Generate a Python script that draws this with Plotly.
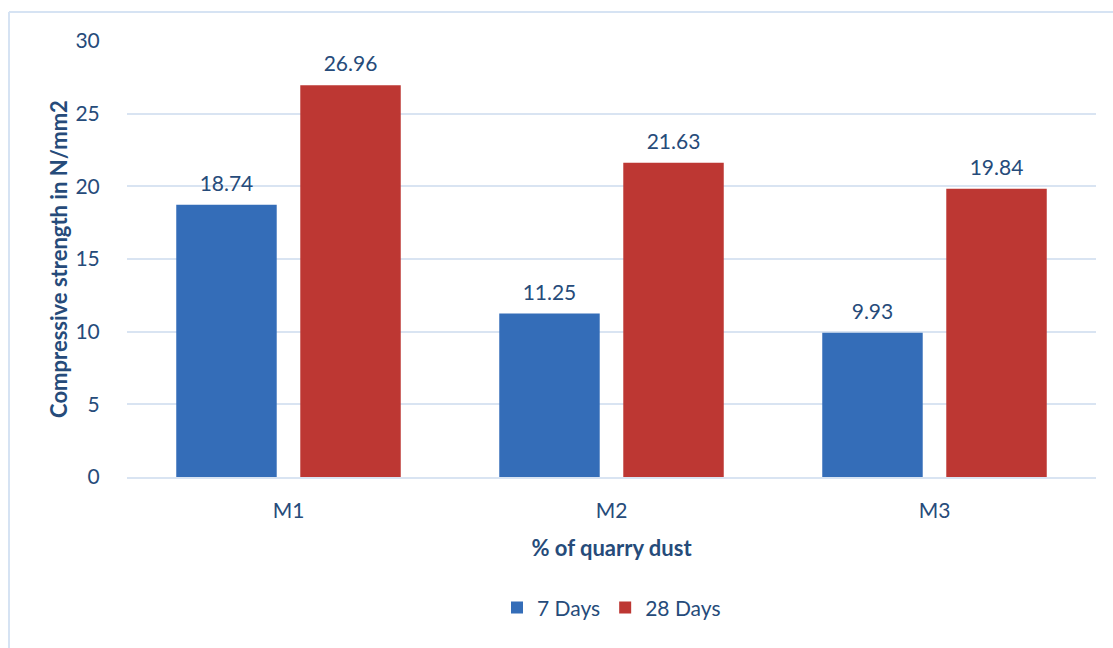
import plotly.graph_objects as go

categories = ["M1", "M2", "M3"]
days7 = [18.74, 11.25, 9.93]
days28 = [26.96, 21.63, 19.84]
series_names = ["7 Days", "28 Days"]
y_ticks = [0, 5, 10, 15, 20, 25, 30]

TEXT = "#264b7a"
FONT = "Lato, 'Open Sans', sans-serif"
COLORS = ["#346db8", "#bd3733"]

fig = go.Figure()
for name, vals, col in zip(series_names, [days7, days28], COLORS):
    fig.add_trace(go.Bar(
        x=categories, y=vals, name=name, offsetgroup=name,
        marker=dict(color=col, line=dict(width=0)),
    ))
for name, vals in zip(series_names, [days7, days28]):
    fig.add_trace(go.Scatter(
        x=categories, y=vals, mode="markers+text", offsetgroup=name,
        marker=dict(size=12, color="rgba(0,0,0,0)"),
        text=[f"{v:.2f}" for v in vals], textposition="top center",
        textfont=dict(size=21, color=TEXT, family=FONT),
        showlegend=False, hoverinfo="skip", cliponaxis=False,
    ))

fig.update_layout(
    width=1113, height=648,
    margin=dict(l=127, r=17, t=41, b=171),
    plot_bgcolor="white", paper_bgcolor="white",
    barmode="group", bargap=0.232, bargroupgap=0.19,
    scattermode="group", scattergap=0.232,
    font=dict(family=FONT, color=TEXT, size=21),
    xaxis=dict(
        title=dict(text="<b>% of quarry dust</b>", font=dict(size=22, color=TEXT), standoff=19),
        tickfont=dict(size=21, color=TEXT), showgrid=False,
        showline=True, linecolor="#d9e4f2", linewidth=2,
        ticks="outside", ticklen=14, tickcolor="white",
    ),
    yaxis=dict(
        title=dict(text="<b>Compressive strength in N/mm2</b>", font=dict(size=22, color=TEXT), standoff=1),
        range=[0, 30], tickvals=y_ticks, tickfont=dict(size=21, color=TEXT),
        showgrid=True, gridcolor="#d9e4f2", gridwidth=2, zeroline=False,
        ticks="outside", ticklen=22, tickcolor="white",
    ),
    legend=dict(orientation="h", x=0.5, xanchor="center", y=-0.30, yanchor="middle",
                font=dict(size=21, color=TEXT), itemwidth=30, traceorder="normal"),
    showlegend=True,
    shapes=[
        dict(type="line", xref="paper", yref="paper", x0=(9-127)/969, x1=1.2, y0=(648-171-12)/436, y1=(648-171-12)/436,
             line=dict(color="#d6e3f3", width=2), layer="below"),
        dict(type="line", xref="paper", yref="paper", x0=(9-127)/969, x1=(9-127)/969, y0=(648-171-12)/436, y1=-0.5,
             line=dict(color="#d6e3f3", width=2), layer="below"),
    ],
)

fig.write_html("out.html")
